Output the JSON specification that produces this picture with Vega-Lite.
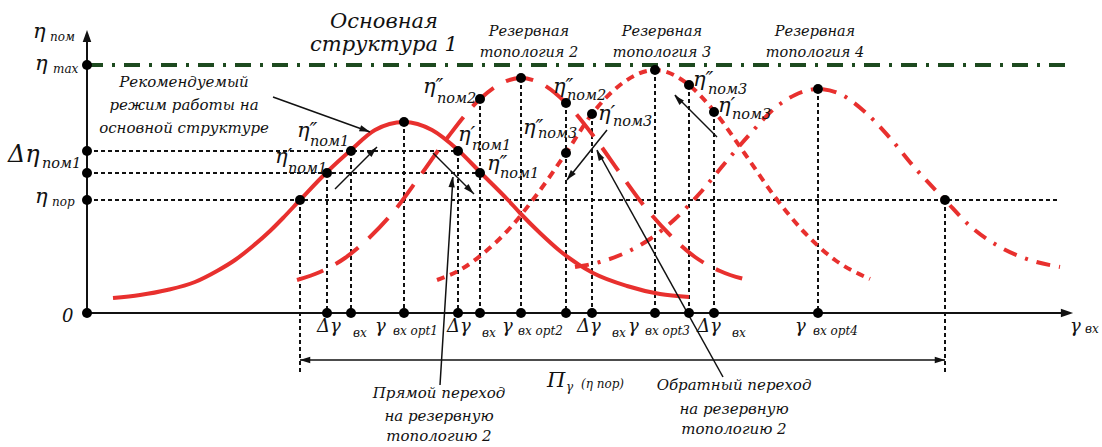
{
  "$schema": "https://vega.github.io/schema/vega-lite/v6.json",
  "width": 1102,
  "height": 447,
  "autosize": {"type": "fit", "contains": "padding"},
  "padding": 0,
  "background": "white",
  "config": {
    "view": {"stroke": null}
  },
  "datasets": {
    "c1": [
      {"x": 26, "y": 15}, {"x": 53, "y": 18}, {"x": 80, "y": 23}, {"x": 108, "y": 31}, {"x": 130, "y": 42},
      {"x": 148, "y": 53}, {"x": 166, "y": 67}, {"x": 183, "y": 82}, {"x": 196, "y": 95}, {"x": 213, "y": 113},
      {"x": 240, "y": 141}, {"x": 264, "y": 163}, {"x": 288, "y": 183}, {"x": 317, "y": 191}, {"x": 345, "y": 183},
      {"x": 371, "y": 163}, {"x": 393, "y": 141}, {"x": 421, "y": 113}, {"x": 433, "y": 100}, {"x": 453, "y": 80},
      {"x": 473, "y": 62}, {"x": 506, "y": 40}, {"x": 540, "y": 27}, {"x": 573, "y": 19}, {"x": 602, "y": 16}
    ],
    "c2": [
      {"x": 210, "y": 33}, {"x": 233, "y": 41}, {"x": 258, "y": 55}, {"x": 283, "y": 76}, {"x": 308, "y": 103},
      {"x": 333, "y": 137}, {"x": 361, "y": 176}, {"x": 393, "y": 214}, {"x": 413, "y": 229}, {"x": 434, "y": 235},
      {"x": 455, "y": 229}, {"x": 479, "y": 210}, {"x": 508, "y": 175}, {"x": 533, "y": 140}, {"x": 558, "y": 106},
      {"x": 583, "y": 78}, {"x": 608, "y": 56}, {"x": 633, "y": 42}, {"x": 665, "y": 32}
    ],
    "c3": [
      {"x": 350, "y": 33}, {"x": 373, "y": 43}, {"x": 398, "y": 61}, {"x": 423, "y": 85}, {"x": 448, "y": 116},
      {"x": 479, "y": 160}, {"x": 505, "y": 199}, {"x": 533, "y": 228}, {"x": 568, "y": 243}, {"x": 602, "y": 228},
      {"x": 627, "y": 202}, {"x": 658, "y": 159}, {"x": 688, "y": 116}, {"x": 718, "y": 80}, {"x": 748, "y": 53},
      {"x": 783, "y": 34}
    ],
    "c4": [
      {"x": 488, "y": 46}, {"x": 513, "y": 51}, {"x": 538, "y": 60}, {"x": 563, "y": 74}, {"x": 588, "y": 94},
      {"x": 613, "y": 120}, {"x": 638, "y": 150}, {"x": 663, "y": 179}, {"x": 688, "y": 205}, {"x": 708, "y": 218},
      {"x": 731, "y": 224}, {"x": 753, "y": 219}, {"x": 778, "y": 201}, {"x": 803, "y": 175}, {"x": 828, "y": 145},
      {"x": 858, "y": 113}, {"x": 883, "y": 87}, {"x": 913, "y": 66}, {"x": 943, "y": 53}, {"x": 973, "y": 46}
    ],
    "hdots": [
      {"x": 0, "x2": 371, "y": 162},
      {"x": 0, "x2": 393, "y": 140},
      {"x": 0, "x2": 970, "y": 113}
    ],
    "vdots": [
      {"x": 240, "y": 140, "y2": 0}, {"x": 264, "y": 162, "y2": 0}, {"x": 317, "y": 191, "y2": 0},
      {"x": 371, "y": 162, "y2": 0}, {"x": 393, "y": 214, "y2": 0}, {"x": 434, "y": 235, "y2": 0},
      {"x": 479, "y": 210, "y2": 0}, {"x": 505, "y": 199, "y2": 0}, {"x": 568, "y": 243, "y2": 0},
      {"x": 602, "y": 228, "y2": 0}, {"x": 627, "y": 201, "y2": 0}, {"x": 731, "y": 224, "y2": 0},
      {"x": 213, "y": 113, "y2": -59}, {"x": 858, "y": 113, "y2": -59}
    ],
    "axes": [
      {"x": 0, "y": 0, "x2": 0, "y2": 276},
      {"x": 0, "y": 0, "x2": 980, "y2": 0}
    ],
    "axisHeads": [
      {"x": 0, "y": 277, "angle": 0},
      {"x": 980, "y": 0, "angle": 90}
    ],
    "arrows": [
      {"x": 186, "y": 216, "x2": 283, "y2": 181},
      {"x": 248, "y": 124, "x2": 290, "y2": 166},
      {"x": 346, "y": 160, "x2": 387, "y2": 119},
      {"x": 353, "y": -72, "x2": 366, "y2": 136},
      {"x": 520, "y": 183, "x2": 480, "y2": 133},
      {"x": 636, "y": -64, "x2": 510, "y2": 163},
      {"x": 630, "y": 176, "x2": 588, "y2": 218},
      {"x": 213, "y": -47, "x2": 858, "y2": -47}
    ],
    "heads": [
      {"x": 278, "y": 183, "angle": 110},
      {"x": 286, "y": 162, "angle": 45},
      {"x": 383, "y": 123, "angle": 135},
      {"x": 365, "y": 131, "angle": 4},
      {"x": 483, "y": 137, "angle": 219},
      {"x": 512, "y": 158, "angle": 331},
      {"x": 591, "y": 214, "angle": 315},
      {"x": 218, "y": -47, "angle": 270},
      {"x": 853, "y": -47, "angle": 90}
    ],
    "pts": [
      {"x": 0, "y": 248}, {"x": 0, "y": 162}, {"x": 0, "y": 140}, {"x": 0, "y": 113}, {"x": 0, "y": 0},
      {"x": 213, "y": 113}, {"x": 240, "y": 140}, {"x": 264, "y": 162}, {"x": 317, "y": 191}, {"x": 371, "y": 162},
      {"x": 393, "y": 140}, {"x": 393, "y": 214}, {"x": 434, "y": 235}, {"x": 479, "y": 210}, {"x": 479, "y": 160},
      {"x": 505, "y": 199}, {"x": 568, "y": 243}, {"x": 602, "y": 228}, {"x": 627, "y": 201}, {"x": 731, "y": 224},
      {"x": 858, "y": 113},
      {"x": 240, "y": 0}, {"x": 264, "y": 0}, {"x": 317, "y": 0}, {"x": 371, "y": 0}, {"x": 393, "y": 0},
      {"x": 434, "y": 0}, {"x": 479, "y": 0}, {"x": 505, "y": 0}, {"x": 568, "y": 0}, {"x": 602, "y": 0},
      {"x": 627, "y": 0}, {"x": 731, "y": 0}
    ],
    "tEta": [
      {"x": -54, "y": 275, "t": "η"}, {"x": -52, "y": 243, "t": "η"}, {"x": -52, "y": 110, "t": "η"},
      {"x": 210, "y": 176, "t": "η″"}, {"x": 188, "y": 150, "t": "η′"}, {"x": 336, "y": 220, "t": "η″"},
      {"x": 371, "y": 172, "t": "η′"}, {"x": 400, "y": 143, "t": "η″"}, {"x": 436, "y": 179, "t": "η″"},
      {"x": 466, "y": 220, "t": "η″"}, {"x": 511, "y": 193, "t": "η′"}, {"x": 606, "y": 227, "t": "η″"},
      {"x": 631, "y": 201, "t": "η′"}, {"x": 460, "y": -74, "t": "Π"}
    ],
    "tDelta": [
      {"x": -79, "y": 151, "t": "Δη"}
    ],
    "tSub": [
      {"x": -45, "y": 145, "t": "пом1"}, {"x": 223, "y": 167, "t": "пом1"}, {"x": 201, "y": 140, "t": "пом1"},
      {"x": 350, "y": 210, "t": "пом2"}, {"x": 385, "y": 163, "t": "пом1"}, {"x": 413, "y": 135, "t": "пом1"},
      {"x": 451, "y": 175, "t": "пом3"}, {"x": 480, "y": 213, "t": "пом2"}, {"x": 526, "y": 187, "t": "пом3"},
      {"x": 621, "y": 219, "t": "пом3"}, {"x": 645, "y": 194, "t": "пом3"}
    ],
    "tSmall": [
      {"x": -37, "y": 272, "t": "пом"}, {"x": -34, "y": 240, "t": "max"}, {"x": -35, "y": 107, "t": "пор"},
      {"x": 266, "y": -24, "t": "вх"}, {"x": 395, "y": -24, "t": "вх"}, {"x": 525, "y": -24, "t": "вх"},
      {"x": 645, "y": -24, "t": "вх"}, {"x": 306, "y": -22, "t": "вх opt1"}, {"x": 431, "y": -22, "t": "вх opt2"},
      {"x": 558, "y": -22, "t": "вх opt3"}, {"x": 726, "y": -22, "t": "вх opt4"}, {"x": 998, "y": -20, "t": "вх"},
      {"x": 479, "y": -78, "t": "γ"}, {"x": 494, "y": -75, "t": "(η пор)"}
    ],
    "tGamma": [
      {"x": 230, "y": -19, "t": "Δγ"}, {"x": 360, "y": -19, "t": "Δγ"}, {"x": 490, "y": -19, "t": "Δγ"},
      {"x": 610, "y": -19, "t": "Δγ"}, {"x": 288, "y": -19, "t": "γ"}, {"x": 415, "y": -19, "t": "γ"},
      {"x": 541, "y": -19, "t": "γ"}, {"x": 708, "y": -19, "t": "γ"}, {"x": 983, "y": -19, "t": "γ"},
      {"x": -25, "y": -9, "t": "0"}
    ],
    "tTitle": [
      {"x": 297, "y": 285, "t": "Основная"},
      {"x": 297, "y": 262, "t": "структура 1"}
    ],
    "tTopo": [
      {"x": 442, "y": 277, "t": "Резервная"}, {"x": 442, "y": 256, "t": "топология 2"},
      {"x": 575, "y": 277, "t": "Резервная"}, {"x": 575, "y": 256, "t": "топология 3"},
      {"x": 728, "y": 277, "t": "Резервная"}, {"x": 728, "y": 256, "t": "топология 4"}
    ],
    "tNote": [
      {"x": 97, "y": 226, "t": "Рекомендуемый"}, {"x": 97, "y": 203, "t": "режим работы на"},
      {"x": 97, "y": 180, "t": "основной структуре"},
      {"x": 352, "y": -85, "t": "Прямой переход"}, {"x": 352, "y": -108, "t": "на резервную"},
      {"x": 352, "y": -128, "t": "топологию 2"},
      {"x": 647, "y": -77, "t": "Обратный переход"}, {"x": 647, "y": -101, "t": "на резервную"},
      {"x": 647, "y": -121, "t": "топологию 2"}
    ]
  },
  "encoding": {
    "x": {"field": "x", "type": "quantitative", "scale": {"domain": [-87, 1015], "nice": false, "zero": false}, "axis": null},
    "y": {"field": "y", "type": "quantitative", "scale": {"domain": [-134, 313], "nice": false, "zero": false}, "axis": null}
  },
  "layer": [
    {
      "data": {"values": [{"x": 0, "x2": 981, "y": 248}]},
      "mark": {"type": "rule", "color": "#1d4a1f", "strokeWidth": 4, "strokeDash": [16, 9, 3, 9]},
      "encoding": {"x2": {"field": "x2"}}
    },
    {
      "data": {"name": "hdots"},
      "mark": {"type": "rule", "color": "#111111", "strokeWidth": 2, "strokeDash": [4, 3]},
      "encoding": {"x2": {"field": "x2"}}
    },
    {
      "data": {"name": "vdots"},
      "mark": {"type": "rule", "color": "#111111", "strokeWidth": 2, "strokeDash": [4, 3]},
      "encoding": {"y2": {"field": "y2"}}
    },
    {
      "data": {"name": "c1"},
      "mark": {"type": "line", "color": "#e8302e", "strokeWidth": 4, "interpolate": "monotone"}
    },
    {
      "data": {"name": "c2"},
      "mark": {"type": "line", "color": "#e8302e", "strokeWidth": 4, "interpolate": "monotone", "strokeDash": [28, 14]}
    },
    {
      "data": {"name": "c3"},
      "mark": {"type": "line", "color": "#e8302e", "strokeWidth": 4, "interpolate": "monotone", "strokeDash": [8, 6]}
    },
    {
      "data": {"name": "c4"},
      "mark": {"type": "line", "color": "#e8302e", "strokeWidth": 4, "interpolate": "monotone", "strokeDash": [14, 9, 3, 9]}
    },
    {
      "data": {"name": "axes"},
      "mark": {"type": "rule", "color": "#111111", "strokeWidth": 2},
      "encoding": {"x2": {"field": "x2"}, "y2": {"field": "y2"}}
    },
    {
      "data": {"name": "arrows"},
      "mark": {"type": "rule", "color": "#111111", "strokeWidth": 1.5},
      "encoding": {"x2": {"field": "x2"}, "y2": {"field": "y2"}}
    },
    {
      "data": {"name": "axisHeads"},
      "mark": {"type": "point", "shape": "M0,-1L0.7,1L-0.7,1Z", "filled": true, "color": "#111111", "size": 150, "opacity": 1},
      "encoding": {"angle": {"field": "angle", "type": "quantitative", "scale": null}}
    },
    {
      "data": {"name": "heads"},
      "mark": {"type": "point", "shape": "M0,-1L0.6,1L-0.6,1Z", "filled": true, "color": "#111111", "size": 110, "opacity": 1},
      "encoding": {"angle": {"field": "angle", "type": "quantitative", "scale": null}}
    },
    {
      "data": {"name": "pts"},
      "mark": {"type": "point", "shape": "circle", "filled": true, "color": "#000000", "size": 100, "opacity": 1}
    },
    {
      "data": {"name": "tEta"},
      "mark": {"type": "text", "font": "DejaVu Serif", "fontStyle": "italic", "color": "#111111", "fontSize": 21, "align": "left", "baseline": "alphabetic"},
      "encoding": {"text": {"field": "t"}}
    },
    {
      "data": {"name": "tDelta"},
      "mark": {"type": "text", "font": "DejaVu Serif", "fontStyle": "italic", "color": "#111111", "fontSize": 24, "align": "left", "baseline": "alphabetic"},
      "encoding": {"text": {"field": "t"}}
    },
    {
      "data": {"name": "tSub"},
      "mark": {"type": "text", "font": "DejaVu Serif", "fontStyle": "italic", "color": "#111111", "fontSize": 14.5, "align": "left", "baseline": "alphabetic"},
      "encoding": {"text": {"field": "t"}}
    },
    {
      "data": {"name": "tSmall"},
      "mark": {"type": "text", "font": "DejaVu Serif", "fontStyle": "italic", "color": "#111111", "fontSize": 12, "align": "left", "baseline": "alphabetic"},
      "encoding": {"text": {"field": "t"}}
    },
    {
      "data": {"name": "tGamma"},
      "mark": {"type": "text", "font": "DejaVu Serif", "fontStyle": "italic", "color": "#111111", "fontSize": 18, "align": "left", "baseline": "alphabetic"},
      "encoding": {"text": {"field": "t"}}
    },
    {
      "data": {"name": "tTitle"},
      "mark": {"type": "text", "font": "DejaVu Serif", "fontStyle": "italic", "color": "#111111", "fontSize": 21, "align": "center", "baseline": "alphabetic"},
      "encoding": {"text": {"field": "t"}}
    },
    {
      "data": {"name": "tTopo"},
      "mark": {"type": "text", "font": "DejaVu Serif", "fontStyle": "italic", "color": "#111111", "fontSize": 14.5, "align": "center", "baseline": "alphabetic"},
      "encoding": {"text": {"field": "t"}}
    },
    {
      "data": {"name": "tNote"},
      "mark": {"type": "text", "font": "DejaVu Serif", "fontStyle": "italic", "color": "#111111", "fontSize": 15, "align": "center", "baseline": "alphabetic"},
      "encoding": {"text": {"field": "t"}}
    }
  ]
}
